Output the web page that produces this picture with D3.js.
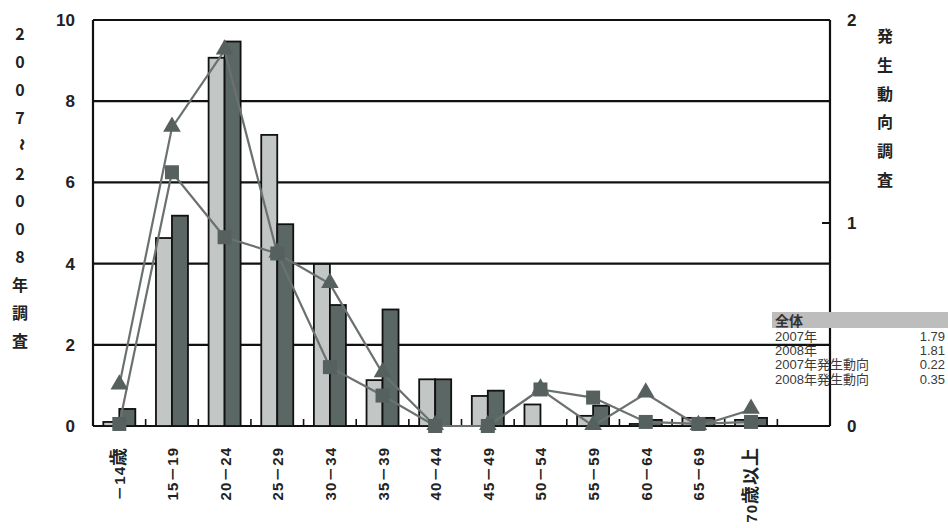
<!DOCTYPE html>
<html><head><meta charset="utf-8">
<script src="https://cdn.jsdelivr.net/npm/d3@7"></script>
<style>
html,body{margin:0;padding:0;background:#fff;}
svg{display:block;}
</style></head>
<body>
<svg id="c" width="948" height="528"></svg>
<script>
// ---- data ----
const categories = ["－14歳","15－19","20－24","25－29","30－34","35－39","40－44","45－49","50－54","55－59","60－64","65－69","70歳以上"];
const bars2007 = [0.1, 4.63, 9.07, 7.17, 3.99, 1.13, 1.15, 0.74, 0.53, 0.25, 0.05, 0.2, 0.15];
const bars2008 = [0.42, 5.18, 9.47, 4.97, 2.98, 2.87, 1.15, 0.87, 0, 0.5, 0.15, 0.2, 0.2];
const trendTriangle = [0.20, 1.47, 1.85, 0.85, 0.70, 0.26, 0, 0, 0.18, 0, 0.16, 0, 0.08];
const trendSquare = [0.01, 1.25, 0.93, 0.85, 0.29, 0.15, 0, 0, 0.18, 0.14, 0.02, 0.01, 0.02];
const leftTicks = [0, 2, 4, 6, 8, 10];
const rightTicks = [0, 1, 2];
const leftTitle = ["2","0","0","7","~","2","0","0","8","年","調","査"];
const rightTitle = ["発","生","動","向","調","査"];
const tableHeader = "全体";
const tableLabels = ["2007年","2008年","2007年発生動向","2008年発生動向"];
const tableValues = ["1.79","1.81","0.22","0.35"];

// ---- layout ----
const L = 93, R = 830, T = 20, B = 426;
const svg = d3.select("#c");
const domain = categories.concat([""]); // trailing empty slot
const x = d3.scaleBand().domain(domain).range([L, R]);
const x1 = d3.scaleBand().domain(["a","b"]).range([-16, 16]);
const yL = d3.scaleLinear().domain([0, 10]).range([B, T]);
const yR = d3.scaleLinear().domain([0, 2]).range([B, T]);
const cx = c => x(c) + x.bandwidth() / 2;

const numFont = "'Liberation Sans', Arial, sans-serif";
const cjkFont = "'Liberation Sans','Noto Sans CJK JP', sans-serif";

// gridlines
svg.append("g").selectAll("line").data(leftTicks).join("line")
  .attr("x1", L).attr("x2", R).attr("y1", d => yL(d)).attr("y2", d => yL(d))
  .attr("stroke", "#111").attr("stroke-width", 2.2);

// frame sides
svg.append("line").attr("x1", L).attr("x2", L).attr("y1", T).attr("y2", B).attr("stroke", "#111").attr("stroke-width", 2.2);
svg.append("line").attr("x1", R).attr("x2", R).attr("y1", T).attr("y2", B).attr("stroke", "#111").attr("stroke-width", 2.2);

// category ticks (inside, at boundaries)
svg.append("g").selectAll("line").data(domain.slice(1)).join("line")
  .attr("x1", d => x(d)).attr("x2", d => x(d)).attr("y1", B).attr("y2", B - 7)
  .attr("stroke", "#111").attr("stroke-width", 1.6);

// right axis ticks
svg.append("g").selectAll("line").data(rightTicks).join("line")
  .attr("x1", R - 8).attr("x2", R).attr("y1", d => yR(d)).attr("y2", d => yR(d))
  .attr("stroke", "#111").attr("stroke-width", 2);

// bars
const barData = categories.flatMap((c, i) => [
  {c, k: "a", v: bars2007[i], fill: "#c2c6c5"},
  {c, k: "b", v: bars2008[i], fill: "#5b6765"}
]);
svg.append("g").selectAll("rect").data(barData.filter(d => d.v > 0)).join("rect")
  .attr("x", d => cx(d.c) + x1(d.k)).attr("width", x1.bandwidth())
  .attr("y", d => yL(d.v)).attr("height", d => yL(0) - yL(d.v))
  .attr("fill", d => d.fill).attr("stroke", "#111").attr("stroke-width", 1.8);

// lines
const line = d3.line().x(d => d[0]).y(d => d[1]);
[trendTriangle, trendSquare].forEach(s => {
  svg.append("path").datum(categories.map((c, i) => [cx(c), yR(s[i])]))
    .attr("d", line).attr("fill", "none").attr("stroke", "#6a7170").attr("stroke-width", 2.2);
});
// markers
svg.append("g").selectAll("path").data(categories.map((c, i) => [cx(c), yR(trendTriangle[i])])).join("path")
  .attr("d", d3.symbol().type(d3.symbolTriangle).size(135))
  .attr("transform", d => `translate(${d[0]},${d[1] - 1})`)
  .attr("fill", "#56615f");
svg.append("g").selectAll("rect").data(categories.map((c, i) => [cx(c), yR(trendSquare[i])])).join("rect")
  .attr("x", d => d[0] - 7).attr("y", d => d[1] - 7).attr("width", 14).attr("height", 14)
  .attr("fill", "#56615f");

// left tick labels
svg.append("g").selectAll("text").data(leftTicks).join("text")
  .attr("x", 75).attr("y", d => yL(d) + 6).attr("text-anchor", "end")
  .attr("font-family", numFont).attr("font-weight", "bold").attr("font-size", 17).attr("fill", "#222")
  .text(d => d);
// right tick labels
svg.append("g").selectAll("text").data(rightTicks).join("text")
  .attr("x", 847).attr("y", d => yR(d) + 6)
  .attr("font-family", numFont).attr("font-weight", "bold").attr("font-size", 17).attr("fill", "#222")
  .text(d => d);

// x labels (rotated) with larger CJK glyphs
const isCJK = ch => /[\u3000-\u9fff]/.test(ch);
const runs = s => {
  const out = [];
  for (const ch of s) {
    const k = isCJK(ch);
    if (out.length && out[out.length - 1].k === k) out[out.length - 1].t += ch;
    else out.push({k, t: ch});
  }
  return out;
};
const xl = svg.append("g").selectAll("text").data(categories).join("text")
  .attr("transform", d => `translate(${cx(d) + 6},447) rotate(-90)`)
  .attr("text-anchor", "end")
  .attr("font-family", cjkFont).attr("font-weight", "bold").attr("font-size", 15).attr("fill", "#222")
  .attr("letter-spacing", 1);
xl.selectAll("tspan").data(d => runs(d)).join("tspan")
  .attr("font-size", r => r.k ? 18 : 15)
  .attr("font-family", r => r.k ? "'Noto Sans CJK JP', sans-serif" : cjkFont)
  .text(r => r.t);

// left title
svg.append("g").selectAll("text").data(leftTitle).join("text")
  .attr("text-anchor", "middle")
  .attr("transform", (d, i) => d === "~" ? `translate(14,${40 + i * 27.9 - 7}) rotate(90)` : `translate(20,${40 + i * 27.9})`)
  .attr("font-family", "'Noto Sans CJK JP', sans-serif").attr("font-weight", "bold")
  .attr("font-size", d => d === "~" ? 22 : 16).attr("fill", "#222")
  .text(d => d);

// right title
svg.append("g").selectAll("text").data(rightTitle).join("text")
  .attr("x", 885).attr("y", (d, i) => 42 + i * 28.8).attr("text-anchor", "middle")
  .attr("font-family", "'Noto Sans CJK JP', sans-serif").attr("font-weight", "bold").attr("font-size", 16).attr("fill", "#222")
  .text(d => d);

// summary table
svg.append("rect").attr("x", 772).attr("y", 312).attr("width", 176).attr("height", 16).attr("fill", "#bdbdbd");
svg.append("text").attr("x", 775).attr("y", 326).text(tableHeader)
  .attr("font-family", "'Noto Sans CJK JP', sans-serif").attr("font-weight", "bold").attr("font-size", 14).attr("fill", "#333");
const tg = svg.append("g").attr("font-family", cjkFont).attr("font-size", 13).attr("fill", "#3a3a3a");
tg.selectAll("text.l").data(tableLabels).join("text").attr("class", "l")
  .attr("x", 775).attr("y", (d, i) => 341 + i * 14.2).text(d => d);
tg.selectAll("text.v").data(tableValues).join("text").attr("class", "v")
  .attr("x", 945).attr("y", (d, i) => 341 + i * 14.2).attr("text-anchor", "end").text(d => d);
</script>
</body></html>
